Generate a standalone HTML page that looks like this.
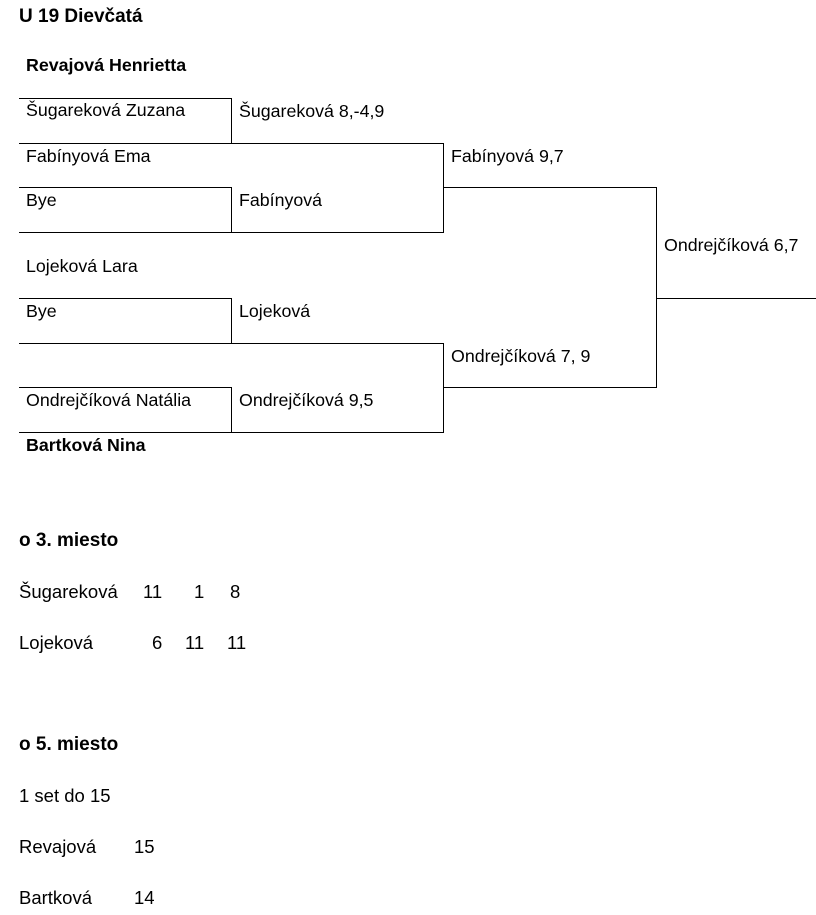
<!DOCTYPE html>
<html><head><meta charset="utf-8"><style>
body{margin:0;background:#fff;width:816px;height:915px;position:relative;overflow:hidden;font-family:"Liberation Sans",Arial,sans-serif;color:#000}
.t{position:absolute;font-size:17.8px;line-height:20px;white-space:nowrap}
.b{font-weight:bold}
.c{position:absolute;font-size:18.5px;line-height:20px;white-space:nowrap;font-family:"Liberation Sans",sans-serif}
.h{position:absolute;background:#000;height:1px}
.v{position:absolute;background:#000;width:1px}
</style></head><body>
<div class="c b" style="left:19px;top:7px;font-size:19px">U 19 Dievčatá</div>
<div class="t b" style="left:26px;top:55px">Revajová Henrietta</div>
<div class="t" style="left:26px;top:100px">Šugareková Zuzana</div>
<div class="t" style="left:239px;top:101px">Šugareková 8,-4,9</div>
<div class="t" style="left:26px;top:146px">Fabínyová Ema</div>
<div class="t" style="left:451px;top:146px">Fabínyová 9,7</div>
<div class="t" style="left:26px;top:190px">Bye</div>
<div class="t" style="left:239px;top:190px">Fabínyová</div>
<div class="t" style="left:664px;top:235px">Ondrejčíková 6,7</div>
<div class="t" style="left:26px;top:256px">Lojeková Lara</div>
<div class="t" style="left:26px;top:301px">Bye</div>
<div class="t" style="left:239px;top:301px">Lojeková</div>
<div class="t" style="left:451px;top:346px">Ondrejčíková 7, 9</div>
<div class="t" style="left:26px;top:390px">Ondrejčíková Natália</div>
<div class="t" style="left:239px;top:390px">Ondrejčíková 9,5</div>
<div class="t b" style="left:26px;top:435px">Bartková Nina</div>

<div class="h" style="left:19px;top:98px;width:213px"></div>
<div class="v" style="left:231px;top:98px;height:45px"></div>
<div class="h" style="left:19px;top:143px;width:425px"></div>
<div class="v" style="left:443px;top:143px;height:89px"></div>
<div class="h" style="left:19px;top:187px;width:213px"></div>
<div class="v" style="left:231px;top:187px;height:45px"></div>
<div class="h" style="left:443px;top:187px;width:214px"></div>
<div class="h" style="left:19px;top:232px;width:425px"></div>
<div class="v" style="left:656px;top:187px;height:200px"></div>
<div class="h" style="left:656px;top:298px;width:160px"></div>
<div class="h" style="left:19px;top:298px;width:213px"></div>
<div class="v" style="left:231px;top:298px;height:45px"></div>
<div class="h" style="left:19px;top:343px;width:425px"></div>
<div class="v" style="left:443px;top:343px;height:89px"></div>
<div class="h" style="left:19px;top:387px;width:213px"></div>
<div class="v" style="left:231px;top:387px;height:45px"></div>
<div class="h" style="left:443px;top:387px;width:214px"></div>
<div class="h" style="left:19px;top:432px;width:425px"></div>

<div class="c b" style="left:19px;top:531px;font-size:19px">o 3. miesto</div>
<div class="c" style="left:19px;top:582px">Šugareková</div>
<div class="c" style="left:143px;top:582px">11</div>
<div class="c" style="left:194px;top:582px">1</div>
<div class="c" style="left:230px;top:582px">8</div>
<div class="c" style="left:19px;top:633px">Lojeková</div>
<div class="c" style="left:152px;top:633px">6</div>
<div class="c" style="left:185px;top:633px">11</div>
<div class="c" style="left:227px;top:633px">11</div>

<div class="c b" style="left:19px;top:735px;font-size:19px">o 5. miesto</div>
<div class="c" style="left:19px;top:786px">1 set do 15</div>
<div class="c" style="left:19px;top:837px">Revajová</div>
<div class="c" style="left:134px;top:837px">15</div>
<div class="c" style="left:19px;top:888px">Bartková</div>
<div class="c" style="left:134px;top:888px">14</div>
</body></html>
